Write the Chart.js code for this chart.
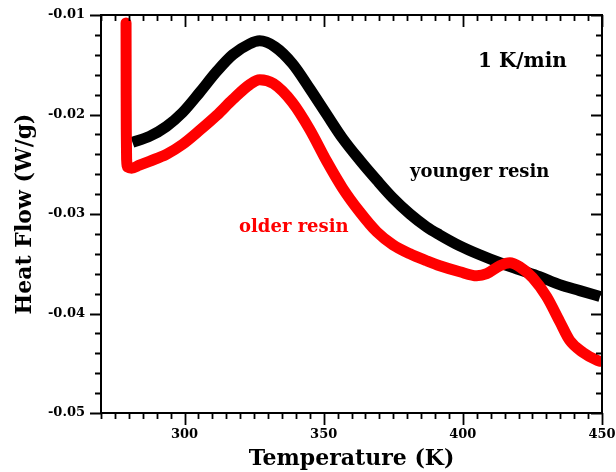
<!DOCTYPE html>
<html><head><meta charset="utf-8">
<script src="https://cdn.jsdelivr.net/npm/chart.js@4"></script>
<style>html,body{margin:0;padding:0;background:#fff}#wrap{width:616px;height:472px}</style>
</head><body><div id="wrap"><canvas id="c" width="616" height="472"></canvas></div>
<script>
const temperatureYounger = [281.3, 287.4, 293.5, 299.3, 305.4, 311.5, 317.3, 323.4, 327.0, 332.5, 338.8, 345.0, 351.1, 356.8, 363.0, 369.1, 374.9, 381.0, 387.0, 391.7, 398.9, 406.1, 413.3, 420.4, 427.6, 434.8, 442.0, 449.3];
const heatFlowYounger = [-0.0228, -0.0222, -0.0212, -0.0198, -0.0178, -0.0157, -0.0140, -0.0129, -0.0126, -0.0132, -0.0149, -0.0174, -0.0200, -0.0224, -0.0246, -0.0266, -0.0284, -0.0300, -0.0313, -0.0321, -0.0332, -0.0341, -0.0349, -0.0356, -0.0363, -0.0371, -0.0377, -0.0383];
const temperatureOlder = [279.0, 279.02, 279.04, 279.1, 279.2, 279.6, 281.0, 283.8, 287.4, 293.5, 299.3, 305.4, 311.5, 317.3, 323.4, 327.0, 332.0, 338.8, 345.0, 351.1, 356.8, 363.0, 369.1, 374.9, 381.0, 387.0, 391.7, 398.9, 405.0, 408.6, 413.3, 416.9, 420.4, 425.1, 430.1, 434.8, 438.4, 443.1, 448.2, 449.3];
const heatFlowOlder = [-0.0108, -0.0140, -0.0180, -0.0220, -0.0245, -0.0253, -0.0254, -0.0251, -0.0247, -0.0240, -0.0230, -0.0216, -0.0201, -0.0185, -0.0170, -0.0165, -0.0169, -0.0188, -0.0215, -0.0247, -0.0274, -0.0298, -0.0318, -0.0331, -0.0340, -0.0347, -0.0352, -0.0358, -0.0362, -0.0360, -0.0352, -0.0349, -0.0353, -0.0364, -0.0383, -0.0408, -0.0427, -0.0439, -0.0447, -0.0448];
const xTickLabels = [300, 350, 400, 450];
const yTickLabels = [-0.05, -0.04, -0.03, -0.02, -0.01];
const seriesNames = ['older resin', 'younger resin'];
const rateLabel = '1 K/min';

const FONT = '"DejaVu Serif", serif';
function pts(xs, ys) { return xs.map((x, i) => ({x: x, y: ys[i]})); }
function isMajorX(v) { return xTickLabels.some(t => Math.abs(t - v) < 1e-6); }
function isMajorY(v) { return yTickLabels.some(t => Math.abs(t - v) < 1e-7); }

const framePlugin = {
  id: 'frameTicks',
  afterDatasetsDraw(chart) {
    const ctx = chart.ctx;
    const a = chart.chartArea;
    const xs = chart.scales.x, ys = chart.scales.y;
    ctx.save();
    ctx.strokeStyle = '#000';
    ctx.lineWidth = 1.8;
    ctx.lineCap = 'butt';
    ctx.beginPath();
    xs.ticks.forEach(t => {
      const px = Math.round(xs.getPixelForValue(t.value)) + 0.5;
      const len = isMajorX(t.value) ? 12 : 6;
      ctx.moveTo(px, a.bottom); ctx.lineTo(px, a.bottom + len);
      ctx.moveTo(px, a.top); ctx.lineTo(px, a.top + len);
    });
    ys.ticks.forEach(t => {
      const py = Math.round(ys.getPixelForValue(t.value)) + 0.5;
      const len = isMajorY(t.value) ? 11 : 6;
      ctx.moveTo(a.left, py); ctx.lineTo(a.left - len, py);
      ctx.moveTo(a.right, py); ctx.lineTo(a.right - len, py);
    });
    ctx.stroke();
    ctx.lineWidth = 2;
    ctx.strokeRect(a.left, a.top, a.right - a.left, a.bottom - a.top);
    ctx.restore();
  },
  afterDraw(chart) {
    const ctx = chart.ctx;
    ctx.save();
    ctx.textBaseline = 'alphabetic';
    ctx.textAlign = 'left';
    ctx.fillStyle = '#000';
    ctx.font = 'bold 20px ' + FONT;
    ctx.fillText(rateLabel, 478, 67);
    ctx.font = 'bold 18px ' + FONT;
    ctx.fillText(seriesNames[1], 410, 177);
    ctx.fillStyle = '#ff0000';
    ctx.fillText(seriesNames[0], 239, 232);
    ctx.restore();
  }
};

new Chart(document.getElementById('c'), {
  type: 'scatter',
  data: {
    datasets: [
      {label: seriesNames[0], data: pts(temperatureOlder, heatFlowOlder), showLine: true,
       borderColor: '#ff0000', backgroundColor: '#ff0000', borderWidth: 11, pointRadius: 0,
       cubicInterpolationMode: 'monotone', order: 0, borderCapStyle: 'round', borderJoinStyle: 'round'},
      {label: seriesNames[1], data: pts(temperatureYounger, heatFlowYounger), showLine: true,
       borderColor: '#000000', backgroundColor: '#000000', borderWidth: 11, pointRadius: 0,
       cubicInterpolationMode: 'monotone', order: 1, borderCapStyle: 'butt', borderJoinStyle: 'round'}
    ]
  },
  options: {
    responsive: false, animation: false, devicePixelRatio: 1,
    layout: {padding: {top: 15, right: 14, left: 0, bottom: 0}},
    plugins: {legend: {display: false}, tooltip: {enabled: false}},
    scales: {
      x: {
        type: 'linear', min: 270, max: 450,
        grid: {display: false, drawTicks: false},
        border: {display: false},
        ticks: {stepSize: 5, autoSkip: false, maxRotation: 0, padding: 14, color: '#000',
          font: {family: FONT, size: 13, weight: 'bold'},
          callback: v => isMajorX(v) ? String(Math.round(v)) : ''},
        title: {display: true, text: 'Temperature (K)', color: '#000',
          font: {family: FONT, size: 22, weight: 'bold'}, padding: {top: 0, bottom: 0}},
        afterFit(s) { s.height = 59; s.paddingLeft = 0; s.paddingRight = 0; }
      },
      y: {
        type: 'linear', min: -0.05, max: -0.01,
        grid: {display: false, drawTicks: false},
        border: {display: false},
        ticks: {stepSize: 0.002, autoSkip: false, padding: 16, color: '#000',
          font: {family: FONT, size: 13, weight: 'bold'},
          callback: v => isMajorY(v) ? v.toFixed(2) : ''},
        title: {display: true, text: 'Heat Flow (W/g)', color: '#000',
          font: {family: FONT, size: 22, weight: 'bold'}, padding: {top: 12, bottom: 0}},
        afterFit(s) { s.width = 101; s.paddingTop = 0; s.paddingBottom = 0; }
      }
    }
  },
  plugins: [framePlugin]
});
</script></body></html>
